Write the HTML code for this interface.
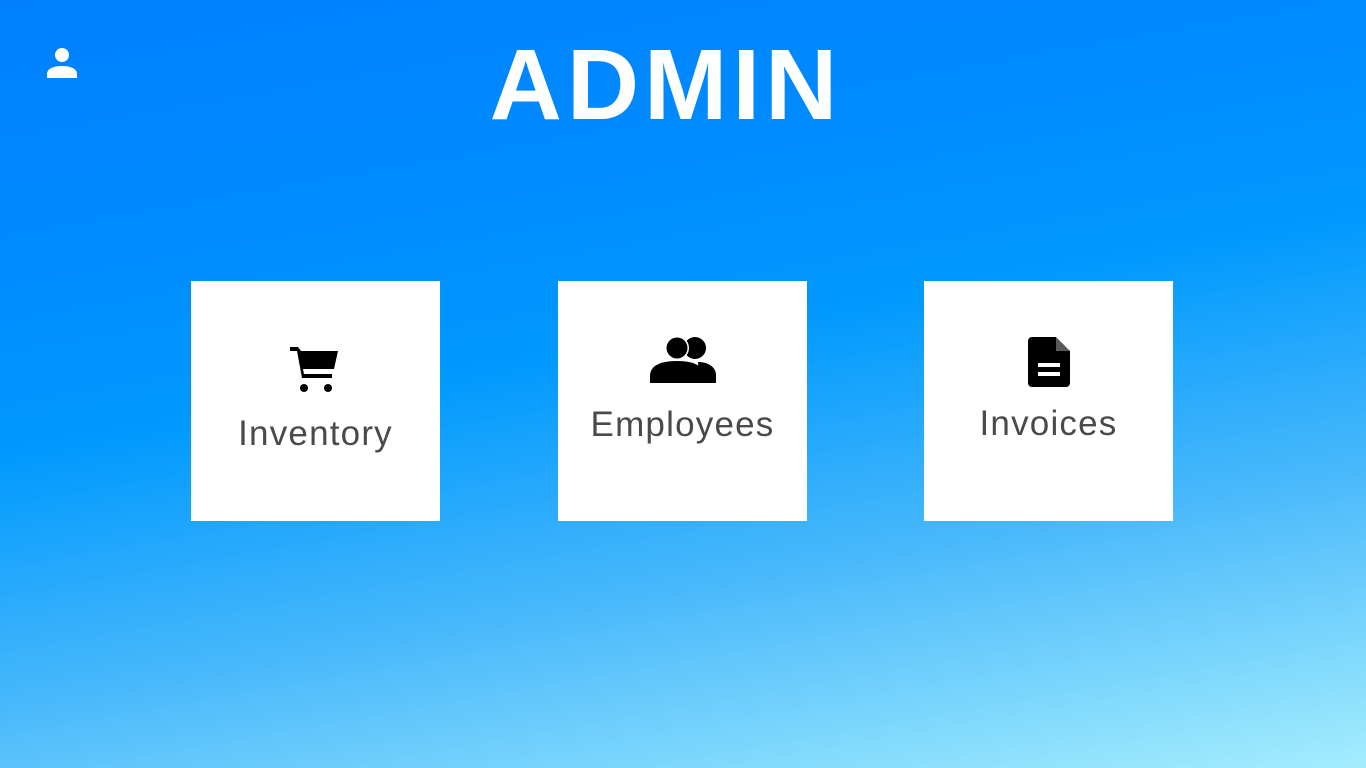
<!DOCTYPE html>
<html><head><style>
body{margin:0;width:1366px;height:768px;overflow:hidden;position:relative;
background:linear-gradient(170deg,#0080ff 0%,#008aff 25%,#0099fe 45%,#48b8fb 70%,#7fd8fc 88%,#a4edfe 100%);
font-family:"Liberation Sans",sans-serif;}
.t{position:absolute;left:0;width:1332px;top:30px;text-align:center;color:#fff;font-weight:bold;font-size:100px;line-height:110px;letter-spacing:5px;}
.box{position:absolute;top:281px;width:249px;height:240px;background:#fff;}
.lbl{position:absolute;left:0;right:0;text-align:center;color:#4a4a4a;font-size:35px;letter-spacing:1.2px;}
svg{position:absolute}
</style></head><body>
<svg style="left:46px;top:46px" width="32" height="32" viewBox="0 0 32 32"><circle cx="16" cy="9" r="7" fill="#fff"/><path d="M1 32v-4c0-5 6-8 15-8s15 3 15 8v4z" fill="#fff"/></svg>
<div class="t">ADMIN</div>
<div class="box" style="left:191px">
<svg style="left:99px;top:64px" width="48" height="48" viewBox="0 0 48 48"><path d="M0 2h8l3 4h37l-4 18H13l1 5h28v4H12L7 6H0z" fill="#000"/><path d="M10 6h37l-4 18H13z" fill="#000"/><circle cx="14" cy="43" r="4" fill="#000"/><circle cx="38" cy="43" r="4" fill="#000"/></svg>
<div class="lbl" style="top:133px">Inventory</div>
</div>
<div class="box" style="left:558px">
<svg style="left:92px;top:54px" width="67" height="48" viewBox="0 0 67 48"><circle cx="45" cy="13" r="11" fill="#000"/><path d="M48 27c10 0 18 5 18 13v8H50z" fill="#000"/><circle cx="27" cy="13" r="12" fill="#fff"/><circle cx="27" cy="13" r="10.5" fill="#000"/><path d="M0 48v-7c0-9 8-15 27-15s27 6 27 15v7z" fill="#000"/></svg>
<div class="lbl" style="top:124px">Employees</div>
</div>
<div class="box" style="left:924px">
<svg style="left:104px;top:56px" width="42" height="50" viewBox="0 0 42 50"><path d="M4 0h24l14 14v32a4 4 0 0 1-4 4H4a4 4 0 0 1-4-4V4a4 4 0 0 1 4-4z" fill="#000"/><path d="M28 0v14h14z" fill="#fff" opacity=".35"/><rect x="10" y="26" width="22" height="4" fill="#fff"/><rect x="10" y="35" width="22" height="4" fill="#fff"/></svg>
<div class="lbl" style="top:123px">Invoices</div>
</div>
</body></html>
